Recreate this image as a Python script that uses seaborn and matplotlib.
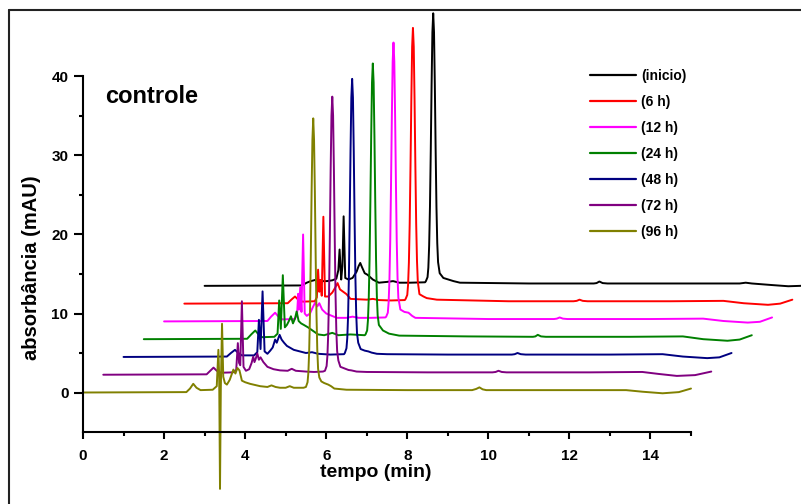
import numpy as np
import pandas as pd
import matplotlib
matplotlib.use("Agg")
import matplotlib.pyplot as plt
import seaborn as sns

# tempo (min) / absorbância (mAU) of each chromatogram, before the waterfall offset
labels = ["(inicio)", "(6 h)", "(12 h)", "(24 h)", "(48 h)", "(72 h)", "(96 h)"]
colors = ["#000000", "#FF0000", "#FF00FF", "#008000", "#000080", "#800080", "#808000"]

t_inicio = [0.0, 2.40, 2.52, 2.62, 2.77, 2.90, 3.02, 3.15, 3.25, 3.30, 3.33, 3.37, 3.40, 3.43, 3.47, 3.55,
            3.65, 3.75, 3.80, 3.84, 3.88, 3.95, 4.02, 4.15, 4.30, 4.50, 4.65, 4.80, 5.07, 5.44,
            5.46, 5.50, 5.52, 5.54, 5.56, 5.58, 5.60, 5.62, 5.64, 5.66, 5.68, 5.70, 5.72, 5.74, 5.76,
            5.80, 5.89, 6.14, 6.30, 8.00, 9.60, 9.67, 9.74, 9.82, 9.94, 12.0, 13.2, 13.35, 13.5,
            14.0, 14.4, 14.7, 15.0]
a_inicio = [0.0, 0.05, 0.4, 0.6, 0.8, 0.6, 0.6, 0.7, 0.9, 2.0, 4.6, 0.8, 2.5, 8.8, 1.0, 0.8,
            1.0, 1.8, 2.5, 2.9, 2.4, 1.6, 1.4, 0.8, 0.4, 0.5, 0.6, 0.4, 0.4, 0.45,
            0.6, 1.1, 2.3, 5.1, 10.0, 17.2, 25.4, 32.1, 34.5, 32.1, 25.4, 17.2, 10.0, 5.4, 3.0,
            1.6, 1.0, 0.6, 0.4, 0.3, 0.3, 0.35, 0.55, 0.35, 0.3, 0.3, 0.3, 0.4, 0.3,
            0.1, -0.05, 0.0, 0.15]

t_6h = [0.0, 2.55, 2.64, 2.73, 2.81, 2.92, 3.22, 3.27, 3.30, 3.33, 3.36, 3.39, 3.43, 3.47, 3.55,
        3.65, 3.72, 3.78, 3.84, 3.92, 4.00, 4.10, 4.50, 4.65, 4.80, 5.10, 5.44,
        5.46, 5.50, 5.52, 5.54, 5.56, 5.58, 5.60, 5.62, 5.64, 5.66, 5.68, 5.70, 5.72, 5.74, 5.76,
        5.80, 5.90, 5.98, 6.23, 8.00, 9.60, 9.68, 9.75, 9.83, 9.95, 12.0, 13.3, 13.8, 14.4, 14.7, 15.0]
a_6h = [0.0, 0.05, 0.5, 0.9, 0.5, 0.25, 0.3, 0.8, 4.3, 1.5, 3.0, 1.0, 11.0, 0.9, 0.9,
        1.4, 2.0, 2.6, 1.8, 1.5, 1.2, 0.6, 0.5, 0.6, 0.45, 0.4, 0.45,
        0.6, 1.1, 2.4, 5.2, 10.1, 17.4, 25.7, 32.5, 34.9, 32.5, 25.7, 17.4, 10.1, 5.4, 2.8,
        1.2, 0.9, 0.7, 0.5, 0.3, 0.3, 0.35, 0.5, 0.35, 0.3, 0.3, 0.35, 0.05, -0.15, 0.0, 0.5]

t_12h = [0.0, 2.55, 2.64, 2.74, 2.82, 2.92, 3.22, 3.28, 3.31, 3.33, 3.36, 3.39, 3.43, 3.47, 3.52,
         3.60, 3.68, 3.73, 3.78, 3.83, 3.90, 4.00, 4.26, 4.50, 4.65, 4.80, 5.10, 5.46,
         5.48, 5.52, 5.54, 5.56, 5.58, 5.60, 5.62, 5.64, 5.66, 5.68, 5.70, 5.72, 5.74, 5.76, 5.78,
         5.83, 5.93, 6.03, 6.12, 6.20, 8.00, 9.62, 9.69, 9.76, 9.84, 9.95, 12.0, 13.3, 13.8, 14.4, 14.7, 15.0]
a_12h = [0.0, 0.05, 0.6, 1.1, 0.6, 0.25, 0.3, 0.8, 3.5, 1.5, 4.3, 1.2, 11.0, 1.0, 0.7,
         1.0, 1.9, 2.4, 1.9, 2.3, 1.5, 1.0, 0.45, 0.45, 0.6, 0.45, 0.45, 0.5,
         0.6, 1.1, 2.4, 5.2, 10.2, 17.6, 26.0, 32.9, 35.3, 32.9, 26.0, 17.6, 10.2, 5.5, 3.0,
         1.5, 1.2, 1.1, 0.7, 0.45, 0.3, 0.3, 0.35, 0.5, 0.35, 0.3, 0.3, 0.35, 0.05, -0.15, -0.05, 0.5]

t_24h = [0.0, 2.55, 2.65, 2.75, 2.83, 2.92, 3.22, 3.30, 3.34, 3.38, 3.43, 3.48, 3.53, 3.58, 3.63,
         3.68, 3.73, 3.77, 3.82, 3.88, 3.95, 4.05, 4.30, 4.45, 4.65, 4.80, 5.10, 5.45,
         5.47, 5.51, 5.53, 5.55, 5.57, 5.59, 5.61, 5.63, 5.65, 5.67, 5.69, 5.71, 5.73, 5.75, 5.77,
         5.80, 5.90, 6.05, 6.30, 8.00, 9.60, 9.66, 9.72, 9.80, 9.92, 12.0, 13.3, 13.8, 14.4, 14.7, 15.0]
a_24h = [0.0, 0.05, 0.6, 1.1, 0.6, 0.25, 0.3, 0.7, 4.9, 1.3, 8.1, 1.5, 1.8, 2.3, 2.9,
         2.0, 2.6, 3.5, 2.3, 2.0, 1.8, 1.5, 0.6, 0.5, 0.8, 0.5, 0.6, 0.5,
         0.6, 1.1, 2.4, 5.2, 10.1, 17.4, 25.7, 32.5, 34.9, 32.5, 25.7, 17.4, 10.1, 5.4, 3.0,
         1.8, 1.1, 0.7, 0.45, 0.35, 0.3, 0.35, 0.55, 0.35, 0.3, 0.3, 0.35, 0.0, -0.2, -0.05, 0.5]

t_48h = [0.0, 2.55, 2.65, 2.75, 2.83, 2.92, 3.22, 3.30, 3.34, 3.38, 3.43, 3.48, 3.55, 3.62, 3.68,
         3.74, 3.78, 3.85, 3.90, 3.96, 4.03, 4.20, 4.50, 4.65, 4.80, 5.10, 5.44,
         5.46, 5.50, 5.52, 5.54, 5.56, 5.58, 5.60, 5.62, 5.64, 5.66, 5.68, 5.70, 5.72, 5.74, 5.76,
         5.79, 5.85, 5.95, 6.04, 6.12, 6.25, 6.50, 8.00, 9.58, 9.65, 9.72, 9.80, 9.92, 12.0, 13.3,
         13.8, 14.4, 14.7, 15.0]
a_48h = [0.0, 0.05, 0.5, 0.9, 0.5, 0.2, 0.2, 0.6, 4.7, 1.0, 8.3, 0.7, 0.4, 0.8, 1.2,
         2.2, 1.8, 2.8, 2.2, 1.8, 1.4, 0.9, 0.5, 0.6, 0.4, 0.3, 0.35,
         0.5, 1.1, 2.4, 5.2, 10.2, 17.5, 26.0, 32.8, 35.2, 32.8, 26.0, 17.5, 10.2, 5.5, 3.0,
         1.8, 1.0, 0.8, 0.7, 0.55, 0.4, 0.35, 0.3, 0.3, 0.35, 0.5, 0.35, 0.3, 0.3, 0.35,
         0.05, -0.15, -0.05, 0.5]

t_72h = [0.0, 2.55, 2.64, 2.72, 2.80, 2.90, 3.20, 3.28, 3.32, 3.35, 3.38, 3.42, 3.46, 3.52, 3.60,
         3.66, 3.70, 3.73, 3.76, 3.80, 3.84, 3.88, 3.95, 4.05, 4.20, 4.36, 4.55, 4.65, 4.75, 5.00,
         5.20, 5.42, 5.47, 5.51, 5.53, 5.55, 5.57, 5.59, 5.61, 5.63, 5.65, 5.67, 5.69, 5.71, 5.73,
         5.75, 5.77, 5.80, 5.85, 5.95, 6.05, 6.12, 6.25, 6.50, 8.00, 9.60, 9.68, 9.75, 9.83, 9.95,
         12.0, 13.3, 13.7, 14.15, 14.6, 15.0]
a_72h = [0.0, 0.05, 0.5, 0.9, 0.5, 0.25, 0.3, 0.6, 4.0, 1.5, 1.2, 9.3, 1.0, 0.5, 0.7,
         1.5, 2.3, 1.6, 2.0, 2.7, 1.9, 2.2, 1.6, 1.0, 0.7, 0.55, 0.5, 0.75, 0.5, 0.4,
         0.35, 0.4, 0.5, 1.1, 2.4, 5.2, 10.2, 17.5, 26.0, 32.8, 35.2, 32.8, 26.0, 17.5, 10.2,
         5.5, 3.0, 1.8, 1.0, 0.8, 0.6, 0.55, 0.4, 0.35, 0.3, 0.3, 0.35, 0.5, 0.35, 0.3,
         0.3, 0.35, 0.1, -0.15, -0.05, 0.4]

t_96h = [0.0, 2.55, 2.64, 2.72, 2.80, 2.90, 3.20, 3.30, 3.34, 3.36, 3.38, 3.40, 3.43, 3.46, 3.50,
         3.55, 3.62, 3.71, 3.76, 3.81, 3.86, 3.92, 4.00, 4.12, 4.37, 4.55, 4.65, 4.75, 4.86, 5.00,
         5.10, 5.20, 5.44, 5.50, 5.54, 5.56, 5.58, 5.60, 5.62, 5.64, 5.66, 5.68, 5.70, 5.72, 5.74,
         5.76, 5.78, 5.80, 5.83, 5.88, 5.95, 6.05, 6.12, 6.20, 6.50, 8.00, 9.60, 9.70, 9.78, 9.86,
         9.95, 12.0, 13.4, 13.8, 14.3, 14.7, 15.0]
a_96h = [0.0, 0.05, 0.5, 1.1, 0.6, 0.3, 0.35, 0.8, 5.4, 2.0, -12.2, 0.5, 8.7, 2.0, 1.2,
         1.0, 1.6, 2.9, 2.4, 3.1, 2.8, 1.5, 1.3, 1.1, 0.8, 0.7, 0.9, 0.7, 0.6, 0.6,
         0.8, 0.6, 0.6, 0.7, 1.3, 2.5, 5.2, 10.0, 17.3, 25.5, 32.0, 34.7, 32.0, 25.5, 17.3,
         10.0, 5.4, 3.0, 1.9, 1.4, 1.2, 1.0, 0.8, 0.5, 0.35, 0.3, 0.3, 0.45, 0.65, 0.4,
         0.3, 0.3, 0.3, 0.1, -0.1, 0.05, 0.5]

x_ticks = [0, 2, 4, 6, 8, 10, 12, 14]
y_ticks = [0, 10, 20, 30, 40]

# waterfall offset between consecutive traces
DX, DY = 0.5, 2.25

traces = [(t_inicio, a_inicio), (t_6h, a_6h), (t_12h, a_12h), (t_24h, a_24h),
          (t_48h, a_48h), (t_72h, a_72h), (t_96h, a_96h)]
n = len(traces)
frames = []
for i, (lab, (t, a)) in enumerate(zip(labels, traces)):
    k = n - 1 - i
    frames.append(pd.DataFrame({"tempo": np.array(t) + k * DX,
                                "abs": np.array(a) + k * DY,
                                "amostra": lab}))
df = pd.concat(frames, ignore_index=True)

sns.set_style("ticks")
plt.rcParams["font.family"] = ["Liberation Sans", "DejaVu Sans"]
plt.rcParams["font.weight"] = "bold"
plt.rcParams["text.color"] = "black"
plt.rcParams["axes.labelcolor"] = "black"

fig = plt.figure(figsize=(8.01, 5.04), dpi=100)
ax = fig.add_axes([83 / 801, 72 / 504, 608 / 801, 355.5 / 504])

sns.lineplot(data=df, x="tempo", y="abs", hue="amostra", hue_order=labels,
             palette=dict(zip(labels, colors)), estimator=None, sort=False,
             lw=1.4, clip_on=False, legend=False, ax=ax)

ax.set_xlim(0, 15)
ax.set_ylim(-5, 40)
ax.set_xticks(x_ticks)
ax.set_xticks(np.arange(1, 16, 2), minor=True)
ax.set_yticks(y_ticks)
ax.set_yticks([5, 15, 25, 35], minor=True)
sns.despine(ax=ax)
for s in ["left", "bottom"]:
    ax.spines[s].set_linewidth(1.5)
    ax.spines[s].set_color("black")
ax.tick_params(axis="x", which="major", length=5, width=1.5, pad=7, labelsize=11, colors="black")
ax.tick_params(axis="y", which="major", length=6.5, width=1.5, pad=4, labelsize=11, colors="black")
ax.tick_params(which="minor", length=3, width=1.5, colors="black")
for lbl in ax.get_xticklabels() + ax.get_yticklabels():
    lbl.set_fontweight("bold")

ax.set_xlabel("tempo (min)", fontsize=14, fontweight="bold", color="black")
ax.set_ylabel("absorbância (mAU)", fontsize=14.5, fontweight="bold", color="black")
ax.xaxis.set_label_coords(0.482, -0.115)
ax.xaxis.label.set_va("center")
ax.yaxis.set_label_coords(-0.0855, 0.461)
ax.yaxis.label.set_va("center")

fig.text(105 / 801, 1 - 103 / 504, "controle", fontsize=17, fontweight="bold",
         color="black", ha="left", va="baseline")

leg = ax.legend(ax.lines[:n], labels, loc="upper left",
                bbox_to_anchor=(590 / 801, 1 - 69 / 504), bbox_transform=fig.transFigure,
                frameon=False, prop={"size": 10, "weight": "bold"},
                handlelength=3.3, handletextpad=0.4, labelspacing=0.86,
                borderpad=0, borderaxespad=0)
for h in leg.legend_handles:
    h.set_linewidth(1.6)
for txt in leg.get_texts():
    txt.set_color("black")

# page frame
fig.add_artist(plt.Line2D([9 / 801, 1], [1 - 10 / 504, 1 - 10 / 504],
                          transform=fig.transFigure, color="#222222", lw=1.5))
fig.add_artist(plt.Line2D([9 / 801, 9 / 801], [0, 1 - 10 / 504],
                          transform=fig.transFigure, color="#222222", lw=1.5))

fig.savefig("out.png", dpi=100)
